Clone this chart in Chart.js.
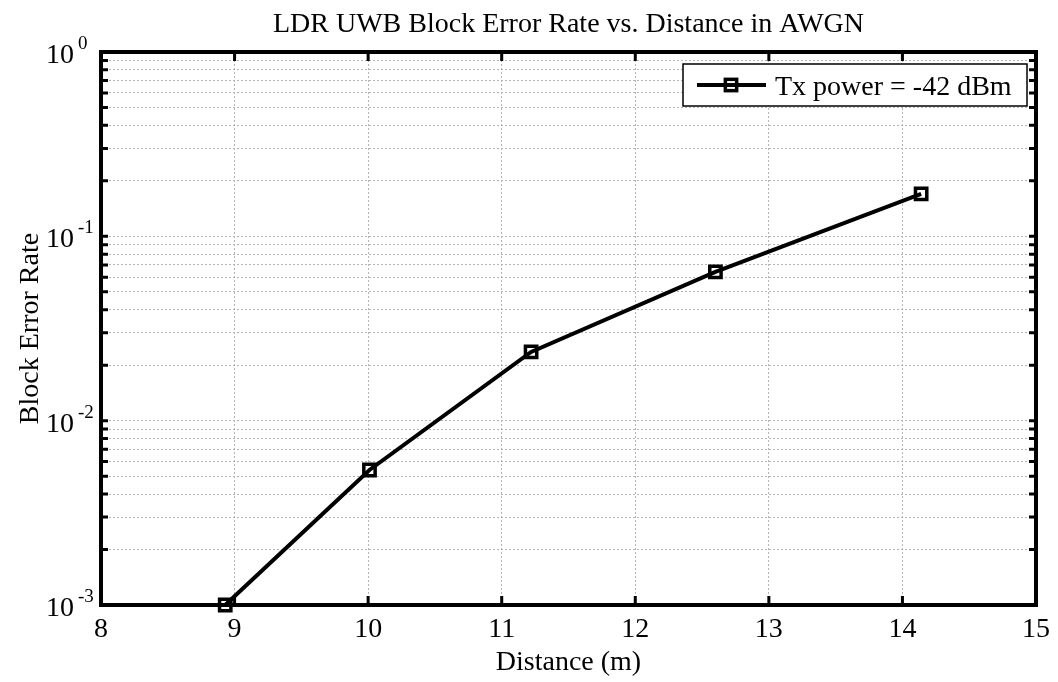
<!DOCTYPE html>
<html lang="en">
<head>
  <meta charset="UTF-8">
  <title>LDR UWB Block Error Rate vs. Distance in AWGN</title>
  <script src="https://cdn.jsdelivr.net/npm/chart.js"></script>
  <style>
    html, body { margin: 0; padding: 0; background: #fff; }
  </style>
</head>
<body>
  <canvas id="myChart" width="1058" height="682"></canvas>

  <script>
    // data
    const distances = [8.93, 10.01, 11.22, 12.60, 14.14];
    const blockErrorRate = [0.001, 0.0054, 0.0236, 0.0641, 0.170];
    const seriesLabel = 'Tx power = -42 dBm';

    // axes
    const xTicks = [8, 9, 10, 11, 12, 13, 14, 15];
    const yDecades = [0.001, 0.01, 0.1, 1];
    const yExponents = ['-3', '-2', '-1', '0'];
    const yMinor = [2, 3, 4, 5, 6, 7, 8, 9];

    const chartTitle = 'LDR UWB Block Error Rate vs. Distance in AWGN';
    const xTitle = 'Distance (m)';
    const yTitle = 'Block Error Rate';

    const FONT = '"Liberation Serif", "Times New Roman", serif';
    const GRID = '#b4b4b4';

    // all y grid values (decades plus 2..9 inside each decade)
    const yGrid = [];
    yDecades.forEach((d, i) => {
      yGrid.push(d);
      if (i < yDecades.length - 1) yMinor.forEach(m => yGrid.push(+(m * d).toPrecision(3)));
    });

    // matlab style frame, inward ticks, y labels with exponents, title, legend
    const matlabFrame = {
      id: 'matlabFrame',
      afterDraw(chart) {
        const ctx = chart.ctx;
        const a = chart.chartArea;
        const xs = chart.scales.x, ys = chart.scales.y;
        ctx.save();

        // tick marks pointing in
        ctx.strokeStyle = '#000';
        ctx.lineWidth = 3;
        xTicks.forEach(v => {
          const px = xs.getPixelForValue(v);
          ctx.beginPath();
          ctx.moveTo(px, a.bottom); ctx.lineTo(px, a.bottom - 9);
          ctx.moveTo(px, a.top); ctx.lineTo(px, a.top + 9);
          ctx.stroke();
        });
        yGrid.forEach(v => {
          const py = ys.getPixelForValue(v);
          ctx.beginPath();
          ctx.moveTo(a.left, py); ctx.lineTo(a.left + 7, py);
          ctx.moveTo(a.right, py); ctx.lineTo(a.right - 7, py);
          ctx.stroke();
        });

        // box
        ctx.lineWidth = 4;
        ctx.strokeRect(a.left, a.top, a.right - a.left, a.bottom - a.top);

        // y tick labels 10^n
        ctx.fillStyle = '#000';
        ctx.textBaseline = 'alphabetic';
        yDecades.forEach((v, i) => {
          const py = ys.getPixelForValue(v);
          ctx.font = '28px ' + FONT;
          ctx.textAlign = 'right';
          ctx.fillText('10', a.left - 27, py + 11);
          ctx.font = '19px ' + FONT;
          ctx.textAlign = 'left';
          ctx.fillText(yExponents[i], a.left - 23, py - 3);
        });

        // title
        ctx.font = '28px ' + FONT;
        ctx.textAlign = 'center';
        ctx.fillText(chartTitle, (a.left + a.right) / 2, 32);

        // legend
        const ds = chart.data.datasets[0];
        const lx = 683, ly = 64, lw = 344, lh = 42;
        ctx.fillStyle = '#fff';
        ctx.fillRect(lx, ly, lw, lh);
        ctx.lineWidth = 1.5;
        ctx.strokeStyle = '#000';
        ctx.strokeRect(lx, ly, lw, lh);
        ctx.lineWidth = ds.borderWidth;
        ctx.beginPath();
        ctx.moveTo(697, 85); ctx.lineTo(766, 85);
        ctx.stroke();
        ctx.lineWidth = ds.pointBorderWidth;
        const s = ds.pointRadius * Math.SQRT1_2;
        ctx.strokeRect(731 - s, 85 - s, 2 * s, 2 * s);
        ctx.fillStyle = '#000';
        ctx.textAlign = 'left';
        ctx.font = '28px ' + FONT;
        ctx.fillText(ds.label, 775, 95);

        ctx.restore();
      }
    };

    const ctx = document.getElementById('myChart').getContext('2d');
    const myChart = new Chart(ctx, {
      type: 'line',
      data: {
        datasets: [{
          label: seriesLabel,
          data: distances.map((d, i) => ({ x: d, y: blockErrorRate[i] })),
          borderColor: '#000',
          borderWidth: 4,
          pointStyle: 'rect',
          pointRadius: 8,
          pointBorderWidth: 3.5,
          pointBorderColor: '#000',
          pointBackgroundColor: 'rgba(0,0,0,0)',
          tension: 0,
          clip: false,
        }],
      },
      options: {
        responsive: false,
        animation: false,
        devicePixelRatio: 1,
        layout: { padding: { top: 52, right: 19, left: 0, bottom: 0 } },
        plugins: {
          legend: { display: false },
          tooltip: { enabled: false },
        },
        scales: {
          x: {
            type: 'linear',
            min: 8,
            max: 15,
            afterBuildTicks: s => { s.ticks = xTicks.map(v => ({ value: v })); },
            ticks: {
              autoSkip: false,
              padding: 8,
              color: '#000',
              font: { family: FONT, size: 28 },
            },
            grid: {
              color: GRID,
              lineWidth: 1,
              drawTicks: false,
            },
            border: { display: false, dash: [2, 2] },
            title: {
              display: true,
              text: xTitle,
              color: '#000',
              font: { family: FONT, size: 28 },
              padding: { top: 0, bottom: 3 },
            },
            afterFit: s => { s.height = 77; },
          },
          y: {
            type: 'logarithmic',
            min: 0.001,
            max: 1,
            afterBuildTicks: s => { s.ticks = yGrid.map(v => ({ value: v })); },
            ticks: { display: false, autoSkip: false },
            grid: {
              color: GRID,
              lineWidth: 1,
              drawTicks: false,
            },
            border: { display: false, dash: [2, 2] },
            title: {
              display: true,
              text: yTitle,
              color: '#000',
              font: { family: FONT, size: 28 },
              padding: { top: 14, bottom: 0 },
            },
            afterFit: s => { s.width = 101; },
          },
        },
      },
      plugins: [matlabFrame],
    });
  </script>
</body>
</html>
